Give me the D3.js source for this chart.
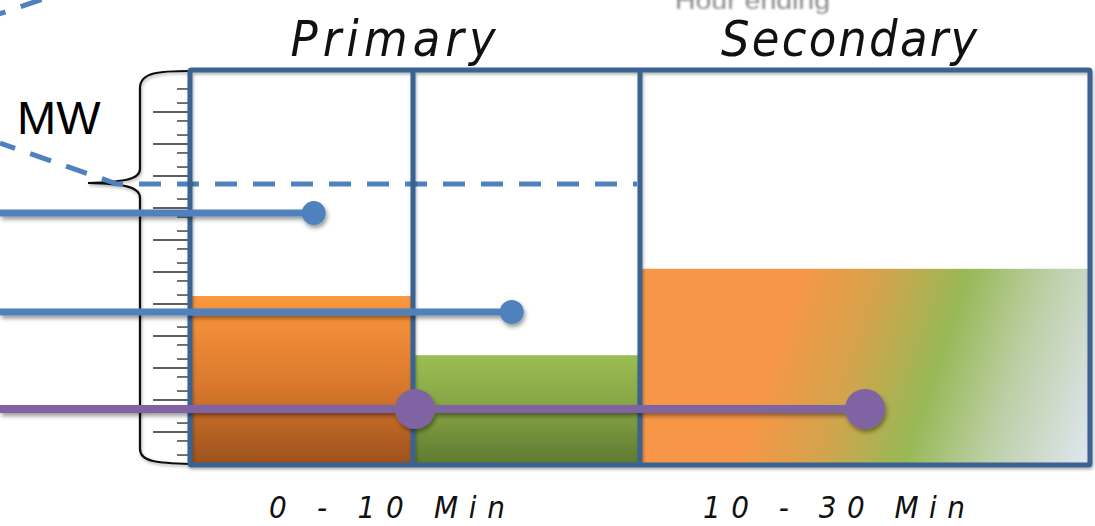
<!DOCTYPE html>
<html>
<head>
<meta charset="utf-8">
<script src="https://cdn.jsdelivr.net/npm/d3@7"></script>
<style>
  html, body { margin: 0; padding: 0; background: #ffffff; overflow: hidden; }
  svg { display: block; }
</style>
</head>
<body>
<svg id="chart" width="1095" height="526"></svg>
<script>
// ---------- data ----------
const groupTitles = ["Primary", "Secondary"];
const groupSpans = [[0, 2], [2, 4]];
const periodLabels = ["0 - 10 Min", "10 - 30 Min"];
const barNames = ["Primary A", "Primary B", "Secondary"];
const barStart = [0, 1, 2];
const barEnd = [1, 2, 4];
const barValues = [5.25, 3.4, 6.1];
const dashedLevel = 8.75;
const blueLevels = [7.84, 4.75];
const blueDotX = [0.55, 1.43];
const purpleLevel = 1.72;
const purpleDotX = [1.0, 3.0];
const rulerMajor = [1, 2, 3, 4, 5, 6, 7, 8, 9, 10, 11];
const rulerMinor = [0.28, 0.72, 1.28, 1.72, 2.28, 2.72, 3.28, 3.72, 4.28, 4.72, 5.28, 5.72,
                    6.28, 6.72, 7.28, 7.72, 8.28, 8.72, 9.28, 9.72, 10.28, 10.72, 11.28, 11.72];
const axisLabel = "MW";
const topNote = "Hour ending";

// ---------- setup ----------
const svg = d3.select("#chart");
const x = d3.scaleLinear().domain([0, 4]).range([190, 1090]);
const y = d3.scaleLinear().domain([0, 12.25]).range([464, 72]);

const defs = svg.append("defs");
const sh = defs.append("filter").attr("id", "shadow")
  .attr("x", "-20%").attr("y", "-50%").attr("width", "140%").attr("height", "200%");
sh.append("feDropShadow").attr("dx", 1.5).attr("dy", 3).attr("stdDeviation", 2)
  .attr("flood-color", "#000").attr("flood-opacity", 0.4);
const shs = defs.append("filter").attr("id", "shadowSoft")
  .attr("x", "-5%").attr("y", "-5%").attr("width", "110%").attr("height", "110%");
shs.append("feDropShadow").attr("dx", 1).attr("dy", 2).attr("stdDeviation", 1.5)
  .attr("flood-color", "#000").attr("flood-opacity", 0.3);
defs.append("filter").attr("id", "blur").append("feGaussianBlur").attr("stdDeviation", 0.9);

const gOr = defs.append("linearGradient").attr("id", "gOrange")
  .attr("x1", 0).attr("y1", 0).attr("x2", 0).attr("y2", 1);
[[0, "#f8983f"], [0.2, "#f18d38"], [0.55, "#d8772c"], [1, "#9c521d"]]
  .forEach(s => gOr.append("stop").attr("offset", s[0]).attr("stop-color", s[1]));
const gGr = defs.append("linearGradient").attr("id", "gGreen")
  .attr("x1", 0).attr("y1", 0).attr("x2", 0).attr("y2", 1);
[[0, "#9cbd52"], [0.5, "#84a344"], [1, "#5d7a30"]]
  .forEach(s => gGr.append("stop").attr("offset", s[0]).attr("stop-color", s[1]));
const gSec = defs.append("linearGradient").attr("id", "gSec")
  .attr("gradientUnits", "userSpaceOnUse")
  .attr("x1", 645).attr("y1", 269).attr("x2", 1100).attr("y2", 424);
[[0, "#f79646"], [0.31, "#f79646"], [0.47, "#d4a34c"], [0.64, "#97b956"], [0.8, "#bccfa6"], [1, "#e0e6ef"]]
  .forEach(s => gSec.append("stop").attr("offset", s[0]).attr("stop-color", s[1]));
const fills = ["url(#gOrange)", "url(#gGreen)", "url(#gSec)"];

// ---------- top note ----------
svg.append("text").attr("x", 675).attr("y", 9).text(topNote)
  .attr("font-family", "Liberation Sans, Arial, sans-serif").attr("font-size", 24)
  .attr("textLength", 155).attr("lengthAdjust", "spacingAndGlyphs")
  .attr("fill", "#8a8a8a").attr("filter", "url(#blur)");

// ---------- bars ----------
svg.append("g").selectAll("rect").data(barValues).join("rect")
  .attr("x", (d, i) => x(barStart[i]))
  .attr("width", (d, i) => x(barEnd[i]) - x(barStart[i]))
  .attr("y", d => y(d))
  .attr("height", d => y(0) - y(d))
  .attr("fill", (d, i) => fills[i]);

// ---------- ruler ----------
const ruler = svg.append("g").attr("stroke", "#2a2a2a").attr("stroke-width", 1.3);
ruler.selectAll("line.maj").data(rulerMajor).join("line").attr("class", "maj")
  .attr("x1", 153).attr("x2", 190).attr("y1", d => y(d)).attr("y2", d => y(d));
ruler.selectAll("line.min").data(rulerMinor).join("line").attr("class", "min")
  .attr("x1", 177).attr("x2", 190).attr("y1", d => y(d)).attr("y2", d => y(d));

const tipY = y(dashedLevel) - 1;
svg.append("path")
  .attr("d", `M190,${y(12.25)-1} C160,${y(12.25)-1} 140,${y(12.25)} 140,${y(12.25)+16} L140,${tipY-14} C140,${tipY-3} 122,${tipY-1} 88,${tipY} C122,${tipY+1} 140,${tipY+3} 140,${tipY+15} L140,${y(0)-15} C140,${y(0)-2} 158,${y(0)-1} 190,${y(0)}`)
  .attr("fill", "none").attr("stroke", "#111").attr("stroke-width", 2.2)
  .attr("filter", "url(#shadowSoft)");

svg.append("text").attr("x", 17).attr("y", 134).text(axisLabel)
  .attr("font-family", "Liberation Sans, Arial, sans-serif").attr("font-size", 47)
  .attr("fill", "#000");

// ---------- dashed lines ----------
svg.append("path")
  .attr("d", `M0,143 L117,${y(dashedLevel)} L${x(2) - 3},${y(dashedLevel)}`)
  .attr("fill", "none").attr("stroke", "#4f81bd").attr("stroke-width", 5)
  .attr("stroke-dasharray", "22,16").attr("stroke-dashoffset", 6);
svg.append("path").attr("d", "M-4,15 L46,-2")
  .attr("fill", "none").attr("stroke", "#4f81bd").attr("stroke-width", 5)
  .attr("stroke-dasharray", "22,16").attr("stroke-dashoffset", 12);

// ---------- frame ----------
const frame = svg.append("g").attr("filter", "url(#shadowSoft)");
frame.append("rect").attr("x", x(0)).attr("y", 70).attr("width", x(4) - x(0)).attr("height", y(0) + 1 - 70)
  .attr("fill", "none").attr("stroke", "#3a6291").attr("stroke-width", 5).attr("rx", 1.5);
frame.selectAll("line").data([1, 2]).join("line")
  .attr("x1", d => x(d) - (d === 1 ? 2 : 0)).attr("x2", d => x(d) - (d === 1 ? 2 : 0))
  .attr("y1", 70).attr("y2", y(0) + 1)
  .attr("stroke", "#3a6291").attr("stroke-width", 5);

// ---------- blue lines ----------
const blue = svg.append("g").attr("filter", "url(#shadow)");
blue.selectAll("line").data(blueLevels).join("line")
  .attr("x1", 0).attr("x2", (d, i) => x(blueDotX[i]))
  .attr("y1", d => y(d)).attr("y2", d => y(d))
  .attr("stroke", "#4f81bd").attr("stroke-width", 7);
blue.selectAll("circle").data(blueLevels).join("circle")
  .attr("cx", (d, i) => x(blueDotX[i])).attr("cy", d => y(d)).attr("r", 12)
  .attr("fill", "#4f81bd");

// ---------- purple line ----------
const purple = svg.append("g").attr("filter", "url(#shadow)");
purple.append("line").attr("x1", 0).attr("x2", x(purpleDotX[1]))
  .attr("y1", y(purpleLevel)).attr("y2", y(purpleLevel))
  .attr("stroke", "#8064a2").attr("stroke-width", 8);
purple.selectAll("circle").data(purpleDotX).join("circle")
  .attr("cx", d => x(d)).attr("cy", y(purpleLevel)).attr("r", 20)
  .attr("fill", "#8064a2");

// ---------- script labels ----------
const script = "'Liberation Sans Narrow', 'DejaVu Sans Condensed', sans-serif";
const titleW = [205, 256];
svg.selectAll("text.title").data(groupTitles).join("text").attr("class", "title")
  .attr("x", (d, i) => (x(groupSpans[i][0]) + x(groupSpans[i][1])) / 2 - (i === 0 ? 22 : 16))
  .attr("y", 56)
  .attr("text-anchor", "middle")
  .attr("font-family", script).attr("font-style", "italic").attr("font-size", 50)
  .attr("textLength", (d, i) => titleW[i]).attr("lengthAdjust", "spacing")
  .attr("fill", "#111").text(d => d);
const periodW = [236, 262];
const periodC = [387, 834];
svg.selectAll("text.period").data(periodLabels).join("text").attr("class", "period")
  .attr("x", (d, i) => periodC[i]).attr("y", 518)
  .attr("text-anchor", "middle")
  .attr("font-family", script).attr("font-style", "italic").attr("font-size", 31)
  .attr("textLength", (d, i) => periodW[i]).attr("lengthAdjust", "spacing")
  .attr("fill", "#111").text(d => d);
</script>
</body>
</html>
